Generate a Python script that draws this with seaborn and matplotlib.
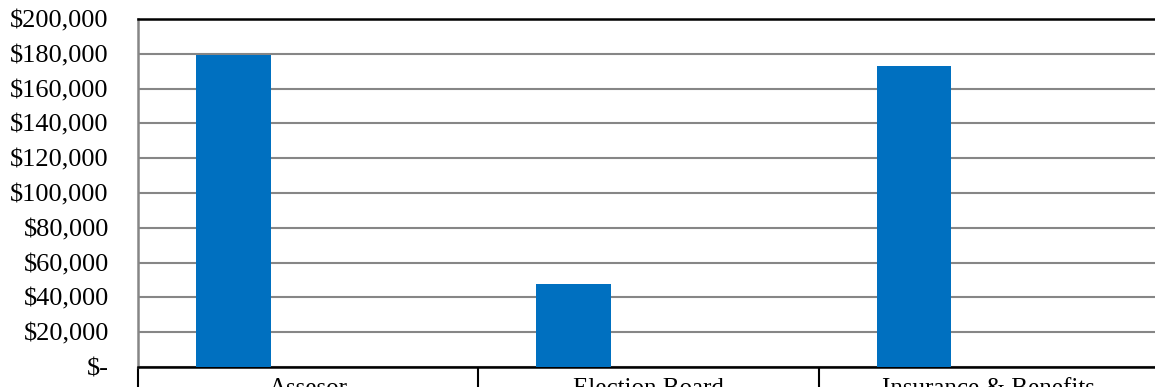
import numpy as np
import pandas as pd
import seaborn as sns
import matplotlib.pyplot as plt
from matplotlib.ticker import FuncFormatter

categories = ["Assesor", "Election Board", "Insurance & Benefits"]
series_names = ["Series 1", "Series 2", "Series 3"]
series1 = [179500, 47800, 173000]
series2 = [0, 0, 0]
series3 = [0, 0, 0]

rows = []
for name, vals in zip(series_names, [series1, series2, series3]):
    for cat, v in zip(categories, vals):
        rows.append({"category": cat, "series": name, "value": v})
df = pd.DataFrame(rows)

sns.set_theme(style="white")
plt.rcParams["font.family"] = ["Liberation Serif", "DejaVu Serif"]

fig = plt.figure(figsize=(11.55, 3.87), dpi=100)
ax = fig.add_axes([138 / 1155, 20 / 387, 1021 / 1155, 348 / 387])

sns.barplot(data=df, x="category", y="value", hue="series", order=categories,
            hue_order=series_names, palette=["#0070C0"] * 3, saturation=1,
            width=0.66, linewidth=0, legend=False, ax=ax, zorder=3)

ax.set_xlim(-0.5, 2.5)
ax.set_ylim(0, 200000)
ax.set_yticks(np.arange(0, 200001, 20000))
ax.yaxis.set_major_formatter(FuncFormatter(lambda v, p: "$-" if v == 0 else f"${v:,.0f}"))
ax.grid(axis="y", color="#868686", linewidth=1.5, zorder=0)
ax.set_axisbelow(True)

ax.tick_params(axis="y", length=0, pad=21, labelsize=19, labelcolor="black")
ax.set_xticks([-0.5, 0.5, 1.5, 2.5], minor=True)
ax.tick_params(axis="x", which="major", bottom=True, length=0, pad=8,
               labelsize=18, labelcolor="black")
ax.tick_params(axis="x", which="minor", bottom=True, length=20, width=1.5,
               color="black", direction="out")

ax.set_xlabel("")
ax.set_ylabel("")
for side in ["top", "bottom"]:
    ax.spines[side].set_color("black")
    ax.spines[side].set_linewidth(1.8)
ax.spines["left"].set_color("#868686")
ax.spines["left"].set_linewidth(1.8)
ax.spines["right"].set_visible(False)

fig.savefig("out.png", dpi=100)
